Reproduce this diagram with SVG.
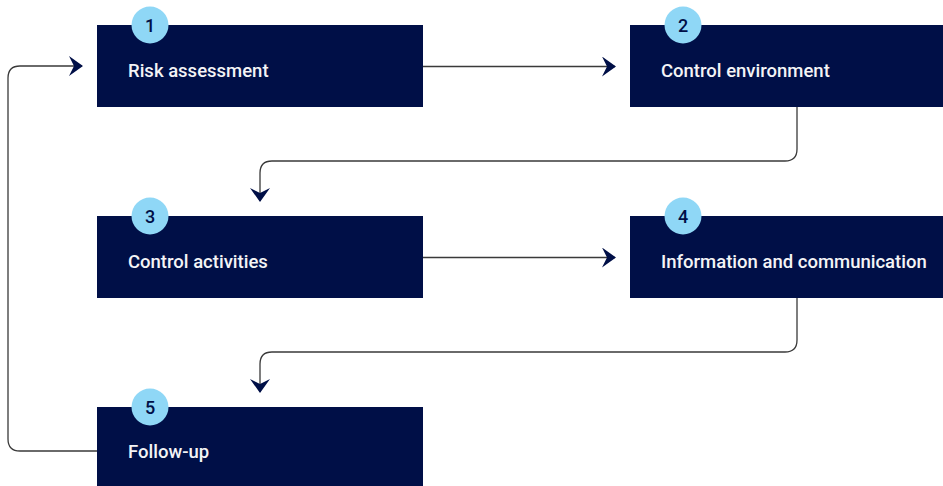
<svg xmlns="http://www.w3.org/2000/svg" width="943" height="486" viewBox="0 0 943 486">
<defs>
<style>
.box{fill:#000f47;}
.badge{fill:#8fd7f6;}
.lbl{font-family:Roboto,"Liberation Sans",sans-serif;font-weight:500;font-size:18.5px;fill:#f4f4f6;}
.num{font-family:Roboto,"Liberation Sans",sans-serif;font-weight:500;font-size:18px;fill:#000f47;text-anchor:middle;}
.conn{fill:none;stroke:#3a3a3a;stroke-width:1.3;}
</style>
<marker id="ah" viewBox="0 0 14 20" refX="13" refY="10" markerWidth="14" markerHeight="20" markerUnits="userSpaceOnUse" orient="auto">
<path d="M0,0 L14,10 L0,20 L5,10 Z" fill="#000f47"/>
</marker>
</defs>
<rect width="943" height="486" fill="#ffffff"/>
<g id="connectors">
<path class="conn" d="M423,66.5 H615" marker-end="url(#ah)"/>
<path class="conn" d="M797,106 V149 Q797,161 785,161 H272 Q260,161 260,173 V201" marker-end="url(#ah)"/>
<path class="conn" d="M423,257.5 H615" marker-end="url(#ah)"/>
<path class="conn" d="M797,297 V340 Q797,352 785,352 H272 Q260,352 260,364 V392" marker-end="url(#ah)"/>
<path class="conn" d="M97,451 H20 Q8,451 8,439 V78 Q8,66 20,66 H82" marker-end="url(#ah)"/>
</g>
<g id="node1">
<rect class="box" x="97" y="25" width="326" height="82"/>
<circle class="badge" cx="150" cy="25" r="18.5"/>
<text class="num" x="150" y="31.5">1</text>
<text class="lbl" x="128" y="77">Risk assessment</text>
</g>
<g id="node2">
<rect class="box" x="630" y="25" width="313" height="82"/>
<circle class="badge" cx="683" cy="25" r="18.5"/>
<text class="num" x="683" y="31.5">2</text>
<text class="lbl" x="661" y="77">Control environment</text>
</g>
<g id="node3">
<rect class="box" x="97" y="216" width="326" height="82"/>
<circle class="badge" cx="150" cy="216" r="18.5"/>
<text class="num" x="150" y="222.5">3</text>
<text class="lbl" x="128" y="268">Control activities</text>
</g>
<g id="node4">
<rect class="box" x="630" y="216" width="313" height="82"/>
<circle class="badge" cx="683" cy="216" r="18.5"/>
<text class="num" x="683" y="222.5">4</text>
<text class="lbl" x="661" y="268">Information and communication</text>
</g>
<g id="node5">
<rect class="box" x="97" y="407" width="326" height="79"/>
<circle class="badge" cx="150" cy="407" r="18.5"/>
<text class="num" x="150" y="413.5">5</text>
<text class="lbl" x="128" y="458">Follow-up</text>
</g>
</svg>
